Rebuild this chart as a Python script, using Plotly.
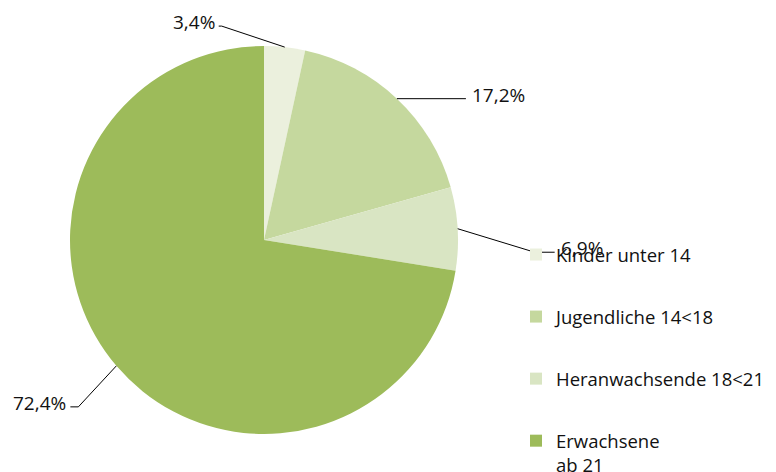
import math
import plotly.graph_objects as go

# ---- data ----
categories = ["Kinder unter 14", "Jugendliche 14<18", "Heranwachsende 18<21", "Erwachsene<br>ab 21"]
values = [3.4, 17.2, 6.9, 72.4]
colors = ["#ebf0dd", "#c5d89e", "#d9e5c3", "#9dbb5a"]

W, H = 776, 472
CX, CY, R = 264, 240, 194  # pie centre / radius in px

# leader line styling (px offsets from slice edge point): elbow dx, dy, tail dx, label side
leader_elbow = [(-63, -21), (69, 0), (77, 23.5), (-38, 41)]
leader_tail = [-3, 0, 20, -8]
label_side = ["right", "left", "left", "right"]

fig = go.Figure()
fig.add_trace(go.Pie(
    values=values, labels=categories, sort=False, direction="clockwise", rotation=0,
    marker=dict(colors=colors, line=dict(width=0)),
    textinfo="none", textposition="inside", hoverinfo="label+percent", showlegend=False,
    domain=dict(x=[(CX - R) / W, (CX + R) / W], y=[1 - (CY + R) / H, 1 - (CY - R) / H]),
))

for i, (lab, col) in enumerate(zip(categories, colors)):
    fig.add_trace(go.Scatter(
        x=[None], y=[None], mode="markers", name=lab, legendgroup=f"g{i}",
        marker=dict(symbol="square", size=12, color=col),
    ))

def px2paper(x, y):
    return x / W, 1 - y / H

total = sum(values)
cum = 0.0
for i, v in enumerate(values):
    mid = (cum + v / 2) / total * 2 * math.pi
    cum += v
    px_, py_ = CX + R * math.sin(mid), CY - R * math.cos(mid)
    ex, ey = px_ + leader_elbow[i][0], py_ + leader_elbow[i][1]
    tx, ty = ex + leader_tail[i], ey
    for (x0, y0, x1, y1) in [(px_, py_, ex, ey), (ex, ey, tx, ty)]:
        if (x0, y0) == (x1, y1):
            continue
        a0, b0 = px2paper(x0, y0)
        a1, b1 = px2paper(x1, y1)
        fig.add_shape(type="line", xref="paper", yref="paper", x0=a0, y0=b0, x1=a1, y1=b1,
                      line=dict(color="#000000", width=1))
    txt = f"{v:.1f}".replace(".", ",") + "%"
    if label_side[i] == "right":
        lx, anchor = tx - 2, "right"
    else:
        lx, anchor = tx + 4, "left"
    ax_, ay_ = px2paper(lx, ty - 4)
    fig.add_annotation(x=ax_, y=ay_, xref="paper", yref="paper", text=txt, showarrow=False,
                       xanchor=anchor, yanchor="middle", font=dict(size=19, color="#111111"))

fig.update_layout(
    width=W, height=H, margin=dict(l=0, r=0, t=0, b=0, autoexpand=False),
    paper_bgcolor="white", plot_bgcolor="white",
    font=dict(family="Open Sans", size=18.5, color="#111111"),
    xaxis=dict(visible=False), yaxis=dict(visible=False),
    legend=dict(x=516 / W, y=1 - 236 / H, xanchor="left", yanchor="top",
                tracegroupgap=35, valign="top", font=dict(size=18.5),
                bgcolor="rgba(0,0,0,0)"),
)

fig.write_html("out.html", config={"displayModeBar": False},
               post_script="document.body.style.margin='0px';")
